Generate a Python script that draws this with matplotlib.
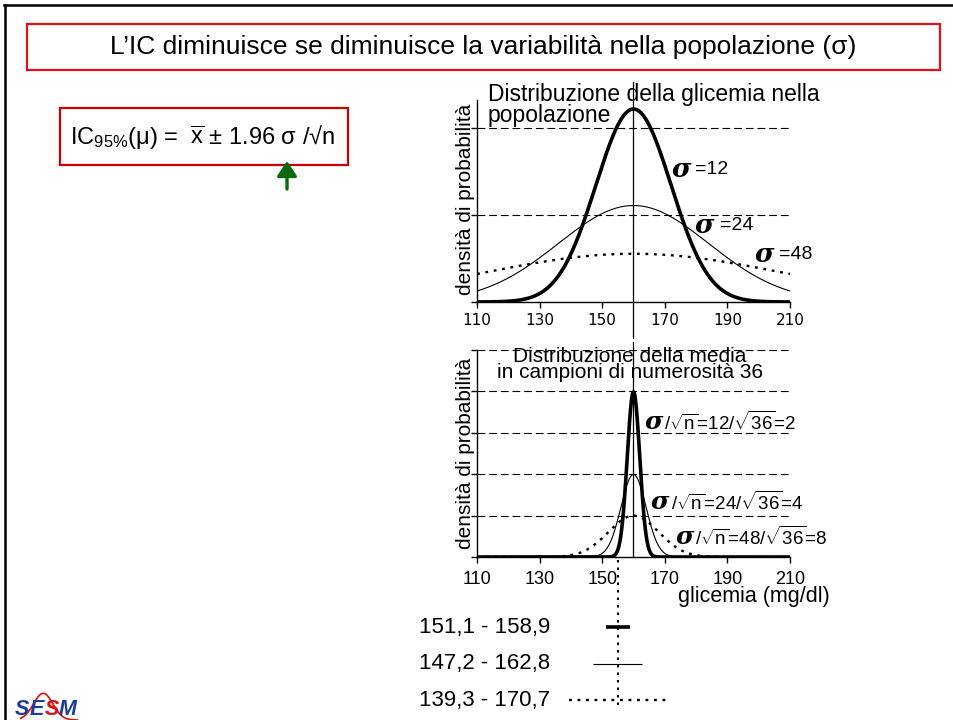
import numpy as np
import matplotlib.pyplot as plt
from matplotlib.patches import Rectangle, FancyArrowPatch
from matplotlib.lines import Line2D

plt.rcParams["font.family"] = ["Liberation Sans", "DejaVu Sans"]
plt.rcParams["mathtext.fontset"] = "custom"
plt.rcParams["mathtext.rm"] = "Liberation Sans"
plt.rcParams["mathtext.it"] = "Liberation Sans:italic"

# data
mu = 160
sigmas = [12, 24, 48]
n = 36
sigma_means = [2, 4, 8]
styles = [dict(lw=2.6, ls="-"), dict(lw=0.8, ls="-"), dict(lw=1.7, ls=(0, (1.2, 2.4)))]
xbar = 155
ci_low = [151.1, 147.2, 139.3]
ci_high = [158.9, 162.8, 170.7]
xticks = [110, 130, 150, 170, 190, 210]
top_grid = [0.015, 0.03]
bottom_grid = [0.05, 0.10, 0.15, 0.20, 0.25]

W, H = 954, 720
def fx(px):
    return px / W
def fy(py):
    return 1 - py / H

fig = plt.figure(figsize=(9.54, 7.2), dpi=100)

# slide frame
fig.add_artist(Line2D([fx(5), fx(5)], [fy(5), 0], color="black", lw=1.8))
fig.add_artist(Line2D([fx(4), 1], [fy(5), fy(5)], color="black", lw=1.8))

# title box
fig.add_artist(Rectangle((fx(27), fy(70)), fx(940) - fx(27), fy(24) - fy(70),
                         transform=fig.transFigure, fill=False, ec="#E3101A", lw=1.6))
fig.text(fx(483), fy(47), "L\u2019IC diminuisce se diminuisce la variabilità nella popolazione (σ)",
         ha="center", va="center", fontsize=19)

# formula box
fig.add_artist(Rectangle((fx(60), fy(165)), fx(348) - fx(60), fy(108) - fy(165),
                         transform=fig.transFigure, fill=False, ec="#CC0000", lw=1.6))
fig.text(fx(70), fy(137), r"IC$_{95\%}$(μ) =  $\overline{\mathrm{x}}$ ± 1.96 σ /√n",
         ha="left", va="center", fontsize=17)
fig.add_artist(FancyArrowPatch((fx(287), fy(189)), (fx(287), fy(161)), transform=fig.transFigure,
                               arrowstyle="-|>,head_width=0.5,head_length=0.75",
                               mutation_scale=12, lw=2.4, color="#0B6A0B",
                               shrinkA=0, shrinkB=0))

def style_axes(ax, grid, ymax, tickfont, tsize, pad):
    ax.set_xlim(110, 210)
    ax.set_ylim(0, ymax)
    for s in ["top", "right"]:
        ax.spines[s].set_visible(False)
    ax.spines["left"].set_linewidth(1.0)
    ax.spines["bottom"].set_linewidth(1.0)
    ax.set_xticks(xticks)
    ax.set_xticklabels([str(t) for t in xticks], fontsize=tsize, family=tickfont)
    ax.set_yticks([0] + grid)
    ax.set_yticklabels([])
    ax.tick_params(axis="both", length=4, width=1.0, direction="out")
    ax.tick_params(axis="x", pad=pad)
    for g in grid:
        ax.axhline(g, color="black", lw=0.8, ls=(0, (7, 3.5)), zorder=1)
    ax.patch.set_alpha(0)

xs = np.linspace(110, 210, 600)
def density(x, m, s):
    return np.exp(-0.5 * ((x - m) / s) ** 2) / (s * np.sqrt(2 * np.pi))

sigma_font = dict(family="DejaVu Serif", weight="bold", style="italic")

# population distribution
ax1 = fig.add_axes([fx(477), fy(302), fx(790) - fx(477), fy(100) - fy(302)])
style_axes(ax1, top_grid, 0.0348, "DejaVu Sans", 11, 4)
for s, st in zip(sigmas, styles):
    ax1.plot(xs, density(xs, mu, s), color="black", solid_capstyle="butt", zorder=3, **st)
ax1.axvline(mu, ymin=-0.178, ymax=1.09, color="black", lw=0.9, clip_on=False, zorder=2)
ax1.text(0.035, 1.085, "Distribuzione della glicemia nella\npopolazione", transform=ax1.transAxes,
         ha="left", va="top", fontsize=16.5, linespacing=0.88)
ax1.text(-0.038, 0.51, "densità di probabilità", transform=ax1.transAxes, rotation=90,
         ha="center", va="center", fontsize=15)
top_pos = [(0.623, 0.658, 0.698), (0.696, 0.381, 0.775), (0.888, 0.233, 0.964)]
for s, (xs_, ys_, xr) in zip(sigmas, top_pos):
    ax1.text(xs_, ys_, "σ", transform=ax1.transAxes, ha="left", va="center", fontsize=19, **sigma_font)
    ax1.text(xr, ys_, f"={s}", transform=ax1.transAxes, ha="left", va="center", fontsize=14)

# distribution of sample means
ax2 = fig.add_axes([fx(477), fy(557), fx(790) - fx(477), fy(350) - fy(557)])
style_axes(ax2, bottom_grid, 0.25, "Liberation Sans", 13, 6)
for s, st in zip(sigma_means, styles):
    ax2.plot(xs, density(xs, mu, s), color="black", solid_capstyle="butt", zorder=3, **st)
ax2.axvline(mu, ymin=0, ymax=1.04, color="black", lw=0.9, clip_on=False, zorder=2)
ax2.text(0.489, 0.93, "Distribuzione della media\nin campioni di numerosità 36", transform=ax2.transAxes,
         ha="center", va="center", fontsize=15, linespacing=0.85)
ax2.text(-0.038, 0.502, "densità di probabilità", transform=ax2.transAxes, rotation=90,
         ha="center", va="center", fontsize=15)
ax2.text(1.128, -0.193, "glicemia (mg/dl)", transform=ax2.transAxes, ha="right", va="center", fontsize=15.5)
bot_pos = [(0.534, 0.652, 0.598), (0.556, 0.266, 0.620), (0.633, 0.097, 0.698)]
for s, sm, (xs_, ys_, xr) in zip(sigmas, sigma_means, bot_pos):
    ax2.text(xs_, ys_, "σ", transform=ax2.transAxes, ha="left", va="center", fontsize=18, **sigma_font)
    ax2.text(xr, ys_, r"/$\sqrt{\mathrm{n}}$=" + f"{s}/" + r"$\sqrt{\mathrm{" + str(n) + "}}$" + f"={sm}",
             transform=ax2.transAxes, ha="left", va="center", fontsize=13.5)

# confidence intervals
ax3 = fig.add_axes([fx(477), fy(718), fx(790) - fx(477), fy(560) - fy(718)])
ax3.set_xlim(110, 210)
ax3.set_ylim(2.49, -1.84)
ax3.axis("off")
ax3.vlines(xbar, -1.84, 2.25, color="black", lw=1.5, ls=(0, (1.2, 2.4)))
for i, (lo, hi, st) in enumerate(zip(ci_low, ci_high, styles)):
    ax3.hlines(i, lo, hi, color="black", **st)
    ax3.text(0.233, i, f"{lo:.1f} - {hi:.1f}".replace(".", ","), transform=ax3.get_yaxis_transform(),
             ha="right", va="center", fontsize=16)

# logo
axl = fig.add_axes([fx(20), fy(720), fx(78) - fx(20), fy(692) - fy(720)])
lx = np.linspace(-3, 3, 100)
axl.plot(lx, np.exp(-0.5 * (lx + 0.6) ** 2), color="#E01010", lw=1.2)
axl.set_xlim(-3, 3)
axl.set_ylim(0, 1.05)
axl.axis("off")
for letter, px, col in [("S", 15, "#1B3C9C"), ("E", 30, "#1B3C9C"), ("S", 45, "#E01010"), ("M", 59, "#1B3C9C")]:
    fig.text(fx(px), fy(715), letter, color=col, fontsize=15.5, weight="bold", style="italic",
             ha="left", va="baseline")

fig.savefig("out.png", dpi=100)
